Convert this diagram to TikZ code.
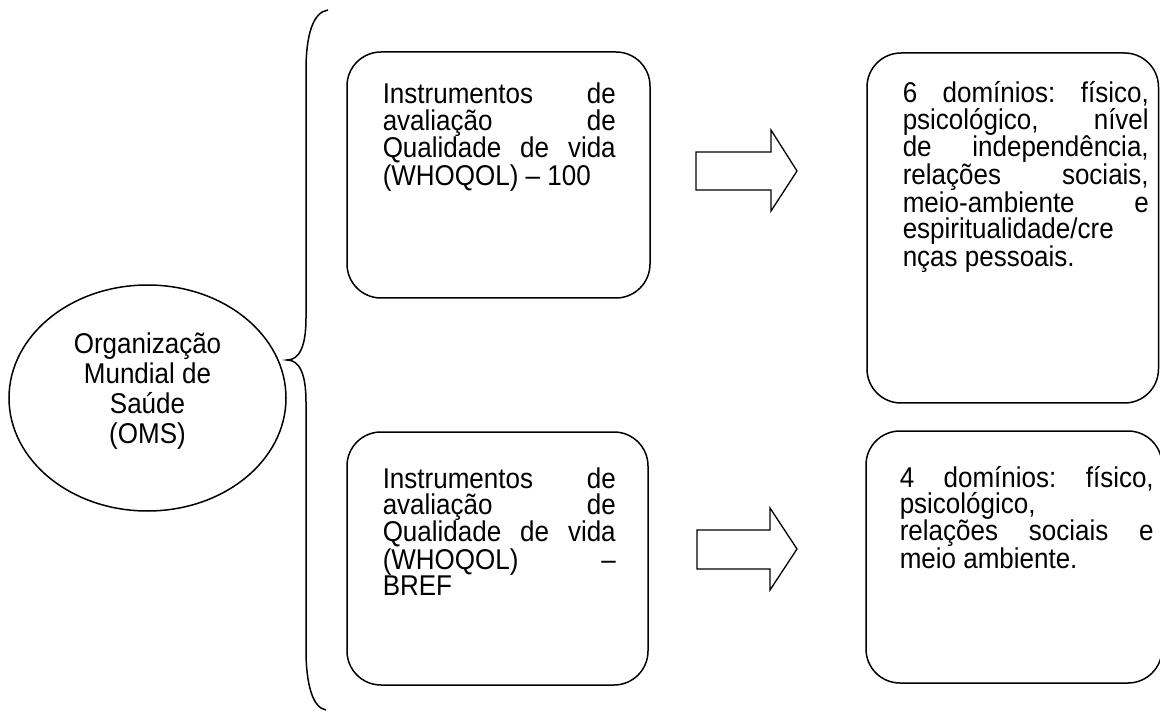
\documentclass[tikz,border=0pt]{standalone}
\usepackage{graphicx}
\usepackage{fontspec}
\setmainfont{Liberation Sans}
\usetikzlibrary{shapes.geometric}
\newcommand\jl[2]{\leavevmode\hbox to #1{#2}}
\newcommand\tallblock[3]{\scalebox{1}[1.1]{\begin{minipage}[t]{#1}#2#3\end{minipage}}}
\begin{document}
\begin{tikzpicture}[x=1pt,y=-1pt,line width=1.5pt,
  roundbox/.style={draw,rounded corners=34pt,inner sep=0pt},
  boxtext/.style={anchor=base west,inner sep=0pt,font=\fontsize{26}{23.64}\selectfont},
  ovaltext/.style={anchor=base,inner sep=0pt,font=\fontsize{26}{27}\selectfont},
  blockarrow/.style={draw,line width=1.3pt,line join=miter},
  bracepath/.style={draw,line width=1.5pt}]
\useasboundingbox (0,0) rectangle (1160,711);

% oval
\node[draw,ellipse,inner sep=0pt,minimum width=277pt,minimum height=226pt] (oms) at (147.5,398) {};
\node[ovaltext] (omstext) at (147.5,354) {\tallblock{260pt}{\centering}{Organização\\Mundial de\\Saúde\\(OMS)}};

% brace
\coordinate (btop) at (328,10);
\coordinate (btip) at (287,360);
\coordinate (bbot) at (326,710);
\draw[bracepath] (btop) .. controls (313,12) and (306,35) .. (306,70)
  -- (306,318) .. controls (306,345) and (300,360) .. (btip)
  .. controls (300,360) and (306,375) .. (306,402)
  -- (306,650) .. controls (306,685) and (313,708) .. (bbot);

% boxes
\node[roundbox,minimum width=303pt,minimum height=246pt] (b1) at (498.5,175) {};
\node[roundbox,minimum width=291.5pt,minimum height=350pt] (b2) at (1012.75,228) {};
\node[roundbox,minimum width=301pt,minimum height=253pt] (b3) at (497.5,558.5) {};
\node[roundbox,minimum width=296pt,minimum height=252pt] (b4) at (1014,557) {};

% texts
\node[boxtext] (t1) at (382,104) {\tallblock{233pt}{\raggedright}{%
\jl{233pt}{Instrumentos\hfill de}\\
\jl{233pt}{avaliação\hfill de}\\
\jl{233pt}{Qualidade\hfill de\hfill vida}\\
(WHOQOL) – 100}};

\node[boxtext] (t2) at (902,103) {\tallblock{246pt}{\raggedright}{%
\jl{246pt}{6\hfill domínios:\hfill físico,}\\
\jl{246pt}{psicológico,\hfill nível}\\
\jl{246pt}{de\hfill independência,}\\
\jl{246pt}{relações\hfill sociais,}\\
\jl{246pt}{meio-ambiente\hfill e}\\
espiritualidade/cre\\
nças pessoais.}};

\node[boxtext] (t3) at (382,488) {\tallblock{233pt}{\raggedright}{%
\jl{233pt}{Instrumentos\hfill de}\\
\jl{233pt}{avaliação\hfill de}\\
\jl{233pt}{Qualidade\hfill de\hfill vida}\\
\jl{233pt}{(WHOQOL)\hfill –}\\
BREF}};

\node[boxtext] (t4) at (899,487) {\tallblock{254pt}{\raggedright}{%
\jl{254pt}{4\hfill domínios:\hfill físico,}\\
psicológico,\\
\jl{254pt}{relações\hfill sociais\hfill e}\\
meio ambiente.}};

% block arrows
\draw[blockarrow] (696,152) -- (771,152) -- (771,130) -- (797,171)
  -- (771,211) -- (771,190) -- (696,190) -- cycle;
\draw[blockarrow] (697,530) -- (770,530) -- (770,508) -- (797,549)
  -- (770,590) -- (770,569) -- (697,569) -- cycle;
\end{tikzpicture}
\end{document}
